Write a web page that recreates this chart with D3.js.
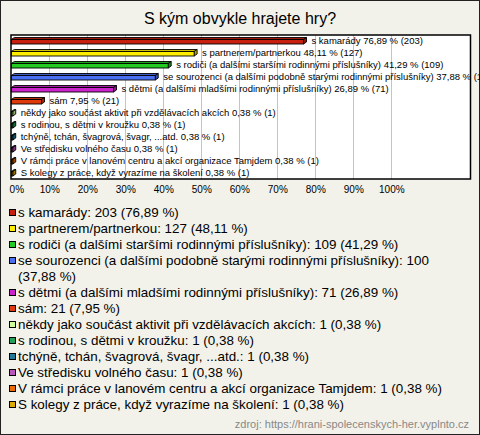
<!DOCTYPE html>
<html><head><meta charset="utf-8">
<script src="https://cdn.jsdelivr.net/npm/d3@7"></script>
<style>
html,body{margin:0;padding:0;background:#f3f2ea;}
svg{display:block;font-family:"Liberation Sans",Arial,sans-serif;}
</style></head>
<body>
<svg id="c" width="480" height="435"></svg>
<script>
const title = "S kým obvykle hrajete hry?";
const categories = [
  "s kamarády",
  "s partnerem/partnerkou",
  "s rodiči (a dalšími staršími rodinnými příslušníky)",
  "se sourozenci (a dalšími podobně starými rodinnými příslušníky)",
  "s dětmi (a dalšími mladšími rodinnými příslušníky)",
  "sám",
  "někdy jako součást aktivit při vzdělávacích akcích",
  "s rodinou, s dětmi v kroužku",
  "tchýně, tchán, švagrová, švagr, ...atd.",
  "Ve středisku volného času",
  "V rámci práce v lanovém centru a akcí organizace Tamjdem",
  "S kolegy z práce, když vyrazíme na školení"
];
const counts = [203, 127, 109, 100, 71, 21, 1, 1, 1, 1, 1, 1];
const percents = [76.89, 48.11, 41.29, 37.88, 26.89, 7.95, 0.38, 0.38, 0.38, 0.38, 0.38, 0.38];
const colors = ["#c8200e","#ffee00","#22cc22","#4a6ff0","#cc22cc","#e03a0c","#ccff99","#22a055","#1f7a99","#bb55bb","#ee6a00","#ddaa00"];
const tickValues = [0,10,20,30,40,50,60,70,80,90,100];
const source = "zdroj: https://hrani-spolecenskych-her.vyplnto.cz";

const fmt = v => v.toFixed(2).replace(".", ",");
const svg = d3.select("#c");
const W = 480, H = 435;

svg.append("rect").attr("x",0.5).attr("y",0.5).attr("width",W-1).attr("height",H-1)
  .attr("fill","#f3f2ea").attr("stroke","#222").attr("stroke-width",1);

svg.append("text").attr("x",240).attr("y",24).attr("text-anchor","middle")
  .attr("font-size",16).attr("fill","#000").text(title);

const plot = {left:11, top:35, right:470.5, bottom:179};
const x = d3.scaleLinear().domain([0,100]).range([11.3, 391.3]);
const y = d3.scaleBand().domain(categories).range([plot.top, plot.bottom]).padding(0);

svg.append("rect").attr("x",plot.left).attr("y",plot.top)
  .attr("width",plot.right-plot.left).attr("height",plot.bottom-plot.top)
  .attr("fill","#fff");

// grid
svg.append("g").selectAll("line").data(tickValues.filter(d=>d>0)).join("line")
  .attr("x1",d=>x(d)).attr("x2",d=>x(d)).attr("y1",plot.top).attr("y2",plot.bottom)
  .attr("stroke","#c4c4c4").attr("stroke-width",1).attr("shape-rendering","crispEdges");

// bars (3D style)
const data = categories.map((c,i)=>({c, n:counts[i], p:percents[i], col:colors[i]}));
const bars = svg.append("g");
const dx = 3, dy = 2;
data.forEach(d=>{
  const cy = y(d.c) + y.bandwidth()/2;
  const x0 = x(0), x1 = x(d.p);
  const top = cy-1.5, bot = cy+3;
  const col = d3.color(d.col);
  bars.append("path")
    .attr("d",`M${x0},${top}L${x0+dx},${top-dy}L${x1+dx},${top-dy}L${x1},${top}Z`)
    .attr("fill",col.darker(0.6)).attr("stroke","#000").attr("stroke-width",0.9).attr("stroke-linejoin","round");
  bars.append("path")
    .attr("d",`M${x1},${top}L${x1+dx},${top-dy}L${x1+dx},${bot-dy}L${x1},${bot}Z`)
    .attr("fill",col.darker(1)).attr("stroke","#000").attr("stroke-width",0.9).attr("stroke-linejoin","round");
  bars.append("rect").attr("x",x0).attr("y",top).attr("width",Math.max(0,x1-x0)).attr("height",bot-top)
    .attr("fill",d.col).attr("stroke","#000").attr("stroke-width",0.9);
  bars.append("text").attr("x",x1+dx+5).attr("y",cy+0.5).attr("dominant-baseline","middle")
    .attr("font-size",9.5).attr("fill","#000")
    .text(`${d.c} ${fmt(d.p)} % (${d.n})`);
});

// plot border
svg.append("rect").attr("x",plot.left).attr("y",plot.top)
  .attr("width",plot.right-plot.left).attr("height",plot.bottom-plot.top)
  .attr("fill","none").attr("stroke","#000").attr("stroke-width",1.5);

// axis
const axis = d3.axisBottom(x).tickValues(tickValues).tickFormat(d=>d+"%").tickSize(0).tickPadding(0);
const ag = svg.append("g").attr("transform",`translate(0,${plot.bottom+7})`).call(axis);
ag.select(".domain").remove();
ag.selectAll("text").attr("font-size",10).attr("fill","#000").attr("font-family","Liberation Sans, Arial, sans-serif")
  .attr("dy","0.71em");
ag.selectAll(".tick").filter(d=>d===0).select("text").attr("dx",5);

// legend
const lg = svg.append("g");
const maxW = 450;
let ly = 213;
data.forEach(d=>{
  lg.append("rect").attr("x",9.5).attr("y",ly-3.5).attr("width",6).attr("height",6)
    .attr("fill",d.col).attr("stroke","#000").attr("stroke-width",1);
  const full = `${d.c}: ${d.n} (${fmt(d.p)}\u00a0%)`;
  const words = full.split(" ");
  let line = "";
  const t = lg.append("text").attr("x",18).attr("y",ly).attr("dominant-baseline","middle")
    .attr("font-size",13.4).attr("fill","#000");
  let ts = t.append("tspan").attr("x",18).attr("y",ly);
  words.forEach(w=>{
    const test = line ? line+" "+w : w;
    ts.text(test);
    if (ts.node().getComputedTextLength() > maxW && line) {
      ts.text(line);
      ly += 16;
      line = w;
      ts = t.append("tspan").attr("x",18).attr("y",ly).text(w);
    } else line = test;
  });
  ly += 16;
});

svg.append("text").attr("x",469).attr("y",428).attr("text-anchor","end")
  .attr("font-size",11).attr("fill","#888").text(source);
</script>
</body></html>
